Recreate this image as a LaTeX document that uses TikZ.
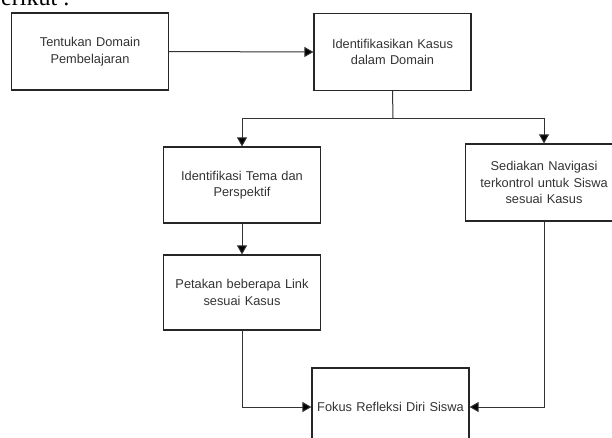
\documentclass[tikz,border=0pt]{standalone}
\usepackage{fontspec}
\setmainfont{Liberation Sans}
\newfontfamily\serifhead{Liberation Serif}
\usetikzlibrary{arrows.meta}
\begin{document}
\begin{tikzpicture}[x=1pt,y=-1pt,
  stepbox/.style={draw=black!85,line width=1.2pt,minimum width=157pt,minimum height=77pt,
    inner sep=2pt,align=center,text width=150pt,font=\fontsize{12.8}{16.5}\selectfont,text=black!80},
  conn/.style={draw=black!80,line width=1pt},
  arr/.style={conn,-{Triangle[length=9pt,width=10pt,fill=black]}}]
\useasboundingbox (0,0) rectangle (612,437);
\clip (0,0) rectangle (612,437);
\node[anchor=base west,font=\serifhead\fontsize{24}{26}\selectfont,inner sep=0pt] (head) at (-11,5) {berikut :};
\node[stepbox] (b1) at (90,51.5) {Tentukan Domain\\Pembelajaran};
\node[stepbox] (b2) at (392.5,52) {Identifikasikan Kasus\\dalam Domain};
\node[stepbox,minimum height=76pt] (tema) at (242,185) {Identifikasi Tema dan\\Perspektif};
\node[stepbox,minimum height=75pt] (pet) at (242,292.5) {Petakan beberapa Link\\sesuai Kasus};
\node[stepbox] (sed) at (544,182.5) {Sediakan Navigasi\\terkontrol untuk Siswa\\sesuai Kasus};
\node[stepbox,minimum height=78pt] (fok) at (390.5,407) {Fokus Refleksi Diri Siswa};
\coordinate (split) at (393,118);
\draw[arr] (b1.east) -- (b2.west);
\draw[conn] (b2.south) -- (split);
\draw[arr] (split) -| (tema.north);
\draw[arr] (split) -| (sed.north);
\draw[arr] (tema.south) -- (pet.north);
\draw[arr] (pet.south) |- (fok.west);
\draw[arr] (sed.south) |- (fok.east);
\end{tikzpicture}
\end{document}
